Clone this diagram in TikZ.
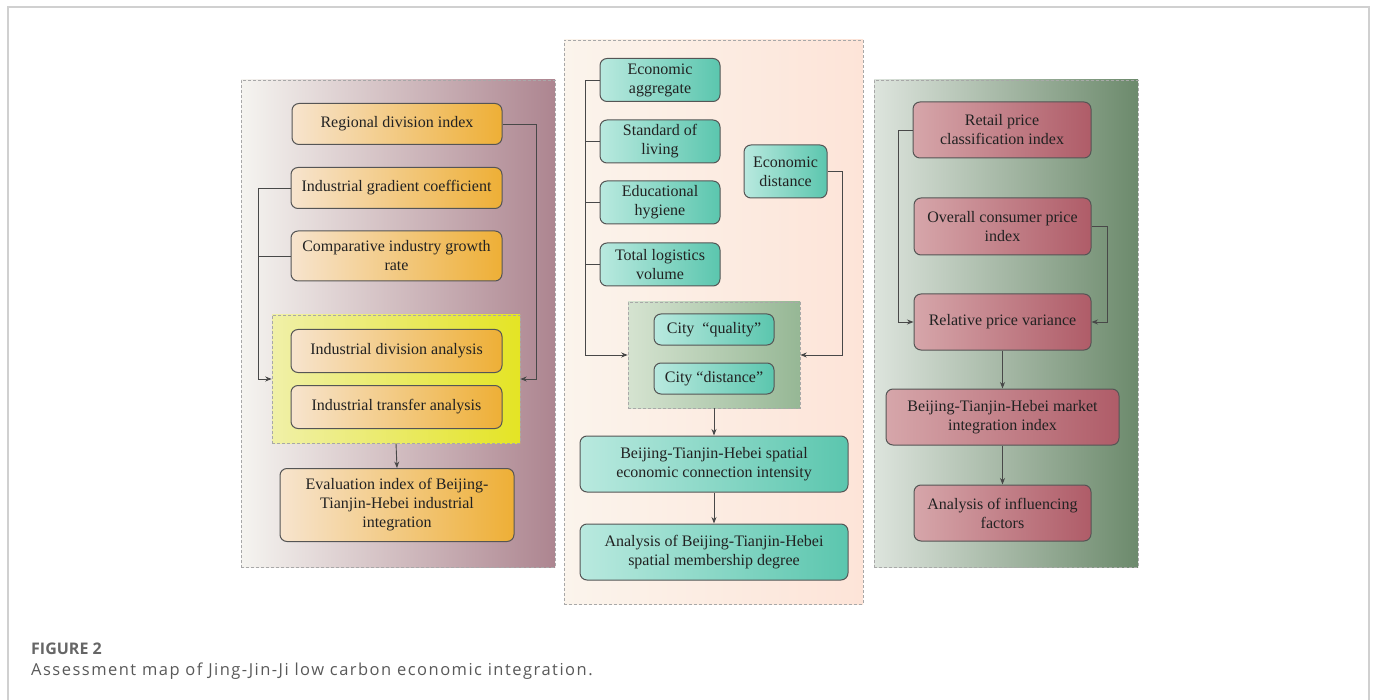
\documentclass[tikz,border=0pt]{standalone}
\usepackage{fontspec}
\setmainfont{Liberation Serif}
\newfontfamily\capfont[LetterSpace=9]{Open Sans}
\newfontfamily\figfont{Open Sans}
\usetikzlibrary{arrows.meta}
\definecolor{frameC}{HTML}{D0D0D0}
\definecolor{lineC}{HTML}{484848}
\definecolor{boxB}{HTML}{555555}
\definecolor{panB}{HTML}{A8A8A8}
\definecolor{lpL}{HTML}{F5F4F0}
\definecolor{lpM}{HTML}{D6C2C2}
\definecolor{lpR}{HTML}{AD8590}
\definecolor{mpL}{HTML}{FBF4EC}
\definecolor{mpM}{HTML}{F1E6E4}
\definecolor{mpR}{HTML}{FDE4D8}
\definecolor{rpL}{HTML}{DDE4DD}
\definecolor{rpM}{HTML}{A8C3AB}
\definecolor{rpR}{HTML}{6C8A6C}
\definecolor{ygL}{HTML}{F0F0A8}
\definecolor{ygR}{HTML}{E4E424}
\definecolor{ggL}{HTML}{D5E3D0}
\definecolor{ggR}{HTML}{96B795}
\definecolor{orL}{HTML}{F7E4CE}
\definecolor{orR}{HTML}{EEAF36}
\definecolor{teL}{HTML}{B9E9DF}
\definecolor{teR}{HTML}{5BC6AE}
\definecolor{reL}{HTML}{D6A6AA}
\definecolor{reR}{HTML}{AF5C68}
\definecolor{txt}{HTML}{222222}
\definecolor{capA}{HTML}{666666}
\definecolor{capB}{HTML}{595959}
\tikzset{
  panel/.style={draw=panB, densely dashed, line width=0.6pt, inner sep=0pt},
  bx/.style={draw=boxB, line width=1pt, rounded corners=7pt, inner sep=0pt,
    align=center, text=txt, font=\fontsize{16}{19}\selectfont},
  obox/.style={bx, left color=orL, right color=orR},
  tbox/.style={bx, left color=teL, right color=teR},
  rbox/.style={bx, left color=reL, right color=reR},
  arr/.style={draw=lineC, line width=0.9pt, -{Stealth[length=6.5pt,width=5pt]}},
  ln/.style={draw=lineC, line width=0.9pt},
}
\begin{document}
\begin{tikzpicture}[x=1pt,y=-1pt]
\useasboundingbox (0,0) rectangle (1375,700);
% outer frame
\draw[frameC, line width=1.5pt] (8,700) -- (8,7) -- (1369,7) -- (1369,700);

% panels
\node[panel, left color=lpL, middle color=lpM, right color=lpR,
  minimum width=314pt, minimum height=487pt] (lp) at (398,323.5) {};
\node[panel, left color=mpL, middle color=mpM, right color=mpR,
  minimum width=299pt, minimum height=564pt] (mp) at (713.5,322) {};
\node[panel, left color=rpL, middle color=rpM, right color=rpR,
  minimum width=264pt, minimum height=487pt] (rp) at (1006,323.5) {};

% left panel
\node[panel, left color=ygL, right color=ygR,
  minimum width=248pt, minimum height=128pt] (yg) at (396,379) {};
\node[obox, minimum width=210pt, minimum height=41pt] (rdi) at (397,124) {Regional division index};
\node[obox, minimum width=211pt, minimum height=41pt] (igc) at (396.5,188) {Industrial gradient coefficient};
\node[obox, minimum width=211pt, minimum height=50pt] (cig) at (396.5,256) {Comparative industry growth\\rate};
\node[obox, minimum width=211pt, minimum height=43pt] (ida) at (396.5,351) {Industrial division analysis};
\node[obox, minimum width=211pt, minimum height=43pt] (ita) at (396.5,407) {Industrial transfer analysis};
\node[obox, minimum width=234pt, minimum height=73pt] (evi) at (397,505) {Evaluation index of Beijing-\\Tianjin-Hebei industrial\\integration};
\coordinate (lx1) at (258,0);
\coordinate (lx2) at (536,0);
\draw[arr] (rdi.east) -- (rdi.east -| lx2) |- (yg.east);
\draw[arr] (igc.west) -- (igc.west -| lx1) |- (yg.west);
\draw[ln] (cig.west) -- (cig.west -| lx1);
\draw[arr] (yg.south) -- (evi.north);

% middle panel
\node[panel, left color=ggL, right color=ggR,
  minimum width=172pt, minimum height=106pt] (gg) at (714,355) {};
\node[tbox, minimum width=120pt, minimum height=43pt] (ea) at (660,80) {Economic\\aggregate};
\node[tbox, minimum width=120pt, minimum height=43pt] (sol) at (660,141.5) {Standard of\\living};
\node[tbox, minimum width=120pt, minimum height=43pt] (eh) at (660,202.5) {Educational\\hygiene};
\node[tbox, minimum width=120pt, minimum height=43pt] (tlv) at (660,264.5) {Total logistics\\volume};
\node[tbox, minimum width=83pt, minimum height=53pt] (ed) at (785.5,171.5) {Economic\\distance};
\node[tbox, minimum width=120pt, minimum height=31pt] (cq) at (714,329.5) {City\ \ ``quality''};
\node[tbox, minimum width=120pt, minimum height=31pt] (cd) at (714,378.5) {City ``distance''};
\node[tbox, minimum width=268pt, minimum height=56pt] (sec) at (714,464) {Beijing-Tianjin-Hebei spatial\\economic connection intensity};
\node[tbox, minimum width=268pt, minimum height=56pt] (smd) at (714,552) {Analysis of Beijing-Tianjin-Hebei\\spatial membership degree};
\coordinate (mx1) at (585,0);
\coordinate (mx2) at (842,0);
\draw[arr] (ea.west) -- (ea.west -| mx1) |- (gg.west);
\draw[ln] (sol.west) -- (sol.west -| mx1);
\draw[ln] (eh.west) -- (eh.west -| mx1);
\draw[ln] (tlv.west) -- (tlv.west -| mx1);
\draw[arr] (ed.east) -- (ed.east -| mx2) |- (gg.east);
\draw[arr] (gg.south) -- (sec.north);
\draw[arr] (sec.south) -- (smd.north);

% right panel
\node[rbox, minimum width=178pt, minimum height=56pt] (rpc) at (1002,130) {Retail price\\classification index};
\node[rbox, minimum width=177pt, minimum height=57pt] (ocp) at (1002.5,226.5) {Overall consumer price\\index};
\node[rbox, minimum width=177pt, minimum height=56pt] (rpv) at (1002.5,322) {Relative price variance};
\node[rbox, minimum width=233pt, minimum height=56pt] (bmi) at (1002.5,417) {Beijing-Tianjin-Hebei market\\integration index};
\node[rbox, minimum width=177pt, minimum height=56pt] (aif) at (1002.5,513) {Analysis of influencing\\factors};
\coordinate (rx1) at (898,0);
\coordinate (rx2) at (1107,0);
\draw[arr] (rpc.west) -- (rpc.west -| rx1) |- (rpv.west);
\draw[arr] (ocp.east) -- (ocp.east -| rx2) |- (rpv.east);
\draw[arr] (rpv.south) -- (bmi.north);
\draw[arr] (bmi.south) -- (aif.north);

% caption
\node[anchor=base west, inner sep=0pt, text=capA, font=\figfont\fontsize{16}{19}\selectfont\bfseries] (fig) at (31,654) {FIGURE 2};
\node[anchor=base west, inner sep=0pt, text=capB, font=\capfont\fontsize{16.5}{19}\selectfont] (cap) at (31,675) {Assessment map of Jing-Jin-Ji low carbon economic integration.};
\end{tikzpicture}
\end{document}
